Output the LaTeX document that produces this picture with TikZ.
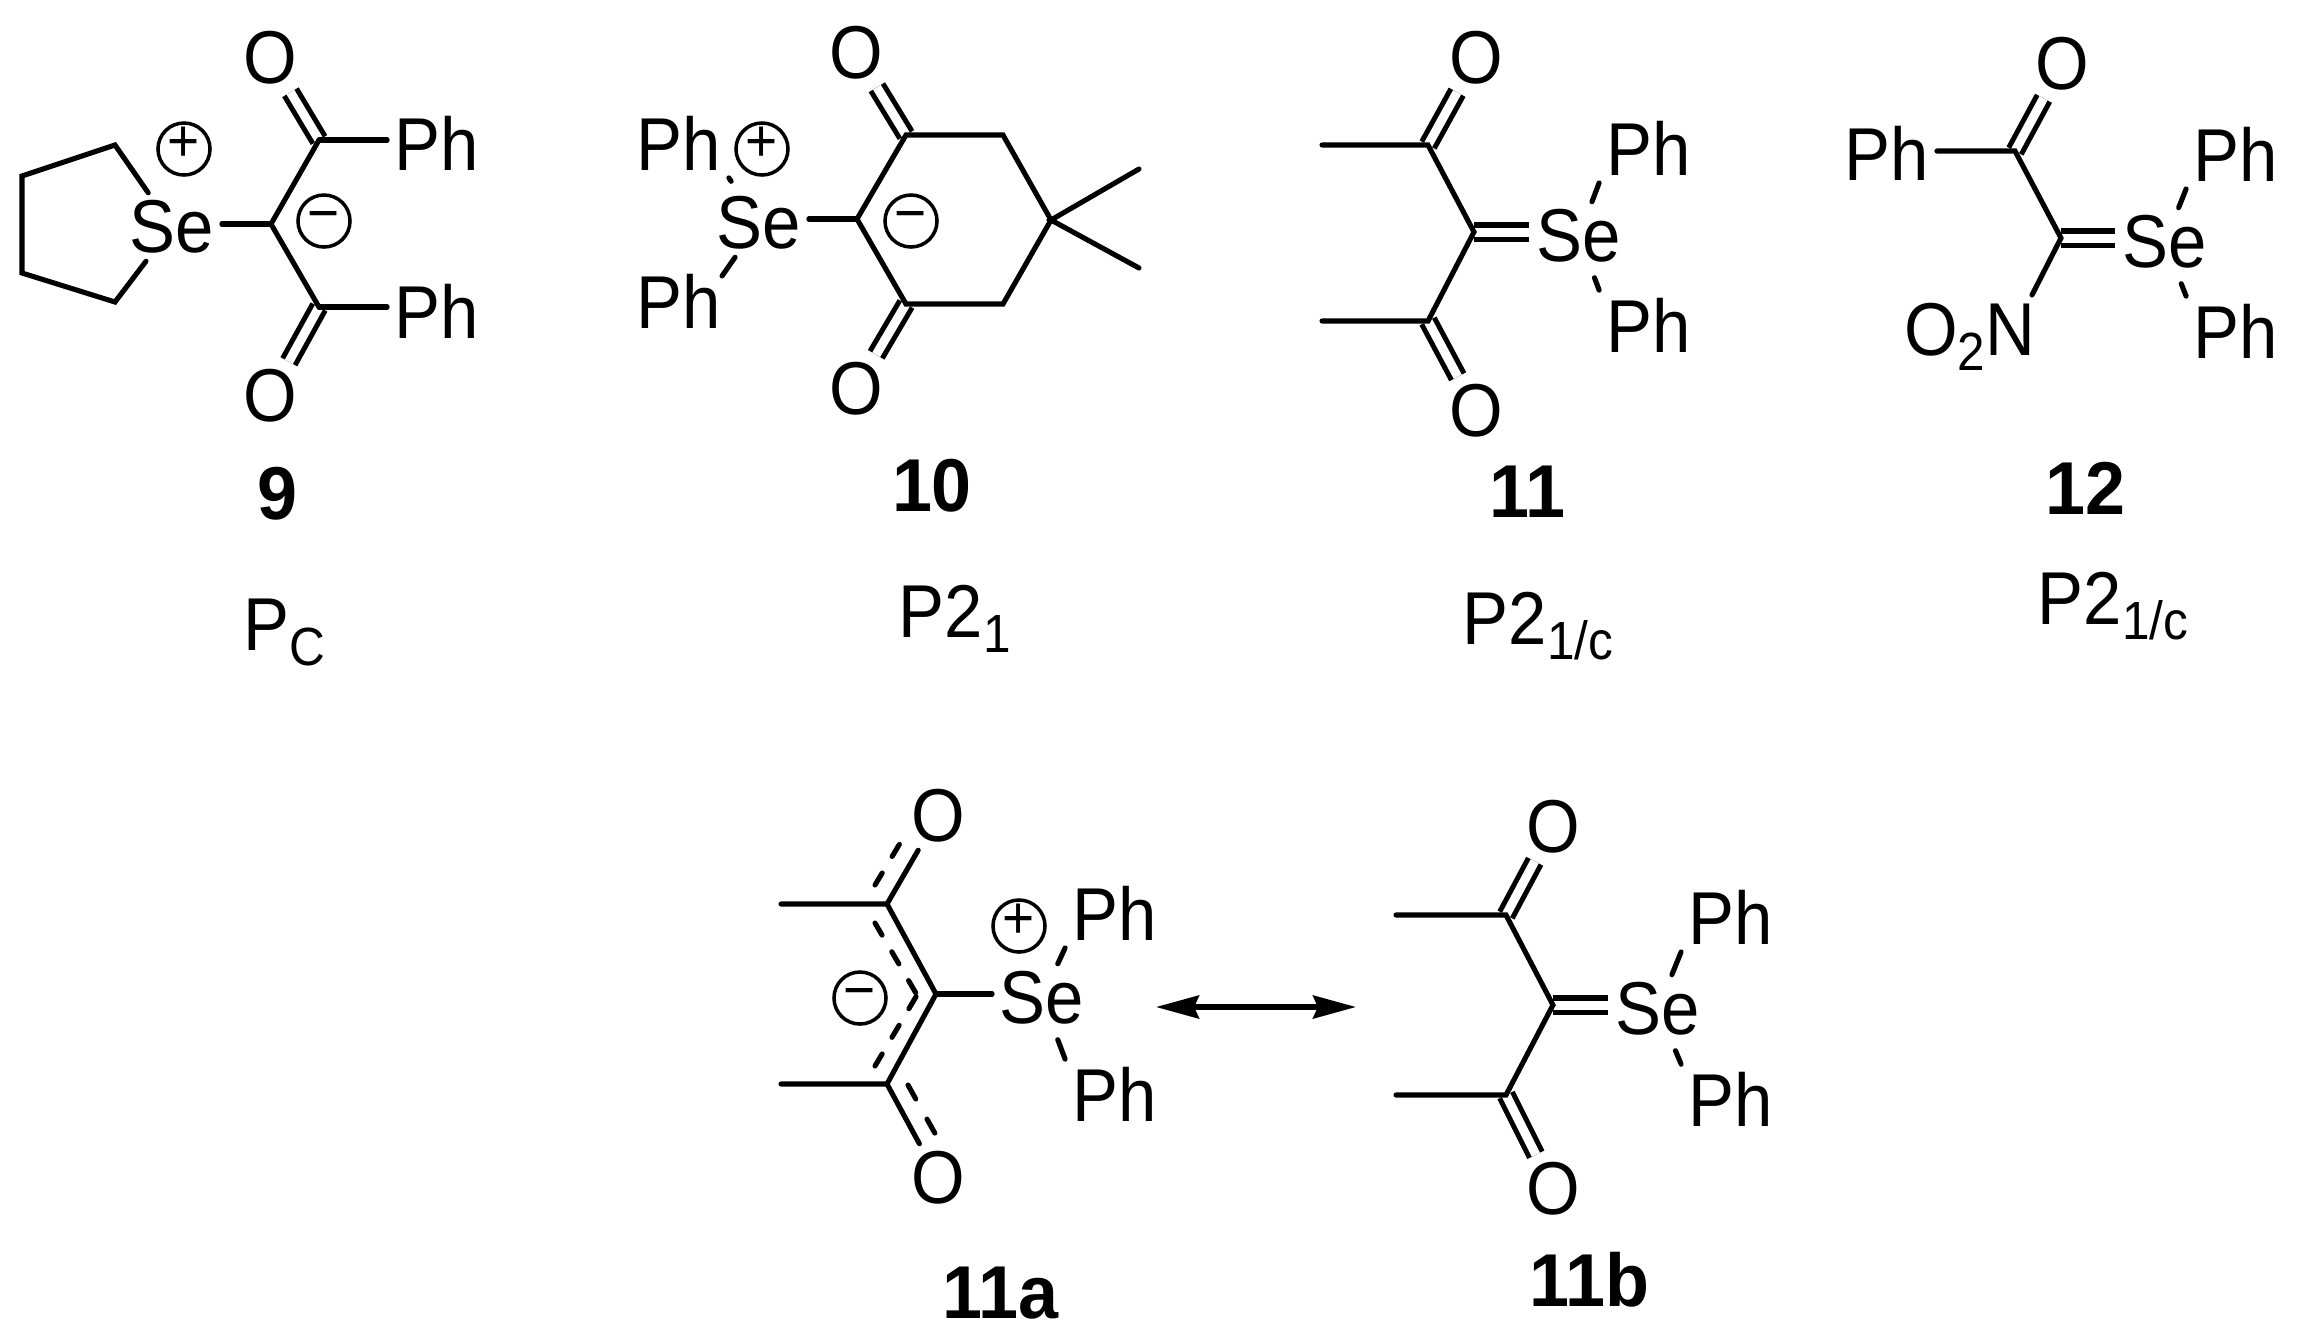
\documentclass[tikz,border=0pt]{standalone}
\usepackage{fontspec}
\setmainfont[FakeStretch=0.92,BoldFeatures={FakeStretch=0.96}]{Liberation Sans}
\usetikzlibrary{calc}
\usetikzlibrary{arrows.meta}

\newcommand{\subtxt}[1]{\raisebox{-4.5pt}{\fontsize{15.3}{16}\selectfont #1}}

\tikzset{
  bond/.style={black,line width=1.45pt,line cap=round},
  dbl/.style={black,line width=1.45pt,double,double distance=0.09cm},
  dsh/.style={black,line width=1.45pt,line cap=round,dash pattern=on 0.14cm off 0.193cm},
  atom/.style={font=\fontsize{21.3}{22}\selectfont,inner sep=2pt},
  lab/.style={font=\fontsize{21.3}{22}\selectfont\bfseries,inner sep=0pt},
  grp/.style={font=\fontsize{21.3}{22}\selectfont,inner sep=0pt,anchor=base west},
  chg/.style={circle,draw,line width=1pt,inner sep=0pt,minimum size=0.52cm,text height=0.7em,text depth=0pt,font=\fontsize{17}{18}\selectfont},
}

\begin{document}
\begin{tikzpicture}[x=0.01cm,y=-0.01cm]
\useasboundingbox (0,0) rectangle (2305,1338);

% 9
\coordinate (A1) at (115,145);
\coordinate (A2) at (22,176);
\coordinate (A3) at (22,273);
\coordinate (A4) at (115,302);
\coordinate (A5) at (319,140);
\coordinate (A6) at (271,224);
\coordinate (A7) at (319,307);
\node[atom] (SeA) at (172,227) {Se};
\node[atom] (OA1) at (270,58) {O};
\node[atom] (OA2) at (270,396) {O};
\node[atom] (PhA1) at (437,143) {Ph};
\node[atom] (PhA2) at (437,311) {Ph};
\node[chg] (plusA) at (184,149) {+};
\node[chg] (minusA) at (324,221) {−};
\draw[dbl] (A5)--(OA1);
\draw[dbl] (A7)--(OA2);
\draw[bond] (SeA)--(A1)--(A2)--(A3)--(A4)--(SeA);
\draw[bond] (A5)--(A6)--(A7);
\draw[bond] (A6)--(A6-|SeA.east);
\draw[bond] (A5)--(A5-|PhA1.west);
\draw[bond] (A7)--(A7-|PhA2.west);
\node[lab] (labA) at (277,494) {9};
\node[grp] (sgA) at (243,650) {P\subtxt{C}};

% 10
\coordinate (B1) at (906,135);
\coordinate (B2) at (1003,135);
\coordinate (B3) at (1051,220);
\coordinate (B4) at (1003,304);
\coordinate (B5) at (906,304);
\coordinate (B6) at (857,219);
\coordinate (B7) at (1139,169);
\coordinate (B8) at (1139,268);
\node[atom] (SeB) at (759,223) {Se};
\node[atom] (OB1) at (856,53) {O};
\node[atom] (OB2) at (856,389) {O};
\node[atom] (PhB1) at (679,143) {Ph};
\node[atom] (PhB2) at (679,301) {Ph};
\node[chg] (plusB) at (762,149) {+};
\node[chg] (minusB) at (911,221) {−};
\draw[dbl] (B1)--(OB1);
\draw[dbl] (B5)--(OB2);
\draw[bond] (B6)--(B1)--(B2)--(B3)--(B4)--(B5)--(B6);
\draw[bond] (B7)--(B3)--(B8);
\draw[bond] (B6)--(B6-|SeB.east);
\draw[bond,shorten <=0.09cm] (SeB)--(PhB1.south east);
\draw[bond,shorten >=-0.12cm] (SeB)--(PhB2.north east);
\node[lab] (labB) at (932,486) {10};
\node[grp] (sgB) at (898,637) {P2\subtxt{1}};

% 11
\coordinate (C1) at (1428,145);
\coordinate (C2) at (1474,232);
\coordinate (C3) at (1428,321);
\coordinate (C4) at (1322,145);
\coordinate (C5) at (1322,321);
\node[atom] (SeC) at (1579,236) {Se};
\node[atom] (OC1) at (1476,58) {O};
\node[atom] (OC2) at (1476,411) {O};
\node[atom] (PhC1) at (1649,148) {Ph};
\node[atom] (PhC2) at (1649,325) {Ph};
\draw[dbl] (C1)--(OC1);
\draw[dbl] (C3)--(OC2);
\draw[dbl] (C2)--(C2-|SeC.west);
\draw[bond] (C4)--(C1)--(C2)--(C3)--(C5);
\draw[bond] (SeC)--(PhC1.south west);
\draw[bond,shorten <=0.08cm] (SeC)--(PhC2.north west);
\node[lab] (labC) at (1527,492) {11};
\node[grp] (sgC) at (1462,644) {P2\subtxt{1/c}};

% 12
\coordinate (D1) at (2015,151);
\coordinate (D2) at (2061,238);
\node[atom] (SeD) at (2165,242) {Se};
\node[atom] (OD1) at (2062,64) {O};
\node[atom] (PhD1) at (1887,153) {Ph};
\node[atom] (PhD2) at (2236,154) {Ph};
\node[atom] (PhD3) at (2236,331) {Ph};
\node[atom,anchor=base east] (ND) at (2043,355) {O\subtxt{2}N};
\draw[dbl] (D1)--(OD1);
\draw[dbl] (D2)--(D2-|SeD.west);
\draw[bond] (D1-|PhD1.east)--(D1)--(D2);
\draw[bond] (D2)--($(ND.north east)+(-11,0)$);
\draw[bond] (SeD)--(PhD2.south west);
\draw[bond,shorten <=0.08cm] (SeD)--(PhD3.north west);
\node[lab] (labD) at (2085,488) {12};
\node[grp] (sgD) at (2037,624) {P2\subtxt{1/c}};

% 11a
\coordinate (E1) at (887,904);
\coordinate (E2) at (936,994);
\coordinate (E3) at (887,1084);
\coordinate (E4) at (781,904);
\coordinate (E5) at (781,1084);
\coordinate (E6) at (875,885);
\coordinate (E7) at (902,840);
\coordinate (E8) at (875,923);
\coordinate (E9) at (917,995);
\coordinate (E10) at (875,1066);
\coordinate (E11) at (908,1085);
\coordinate (E12) at (937,1137);
\node[atom] (SeE) at (1042,998) {Se};
\node[atom] (OE1) at (938,816) {O};
\node[atom] (OE2) at (938,1178) {O};
\node[atom] (PhE1) at (1115,913) {Ph};
\node[atom] (PhE2) at (1115,1094) {Ph};
\node[chg] (plusE) at (1019,926) {+};
\node[chg] (minusE) at (860,998) {−};
\draw[bond] (E4)--(E1)--(E2)--(E3)--(E5);
\draw[bond] (E1)--(OE1);
\draw[bond] (E3)--(OE2);
\draw[bond] (E2)--(E2-|SeE.west);
\draw[dsh] (E6)--(E7);
\draw[dsh] (E8)--(E9);
\draw[dsh] (E10)--(E9);
\draw[dsh,dash pattern=on 0.16cm off 0.23cm] (E11)--(E12);
\draw[bond] (SeE)--(PhE1.south west);
\draw[bond,shorten <=0.08cm] (SeE)--(PhE2.north west);
\node[lab] (labE) at (1000,1293) {11a};

% arrow
\coordinate (arrL) at (1156,1007);
\coordinate (arrR) at (1356,1007);
\draw[black,line width=1.45pt,{Stealth[length=0.43cm,width=0.23cm,inset=0.05cm]}-{Stealth[length=0.43cm,width=0.23cm,inset=0.05cm]}] (arrL)--(arrR);

% 11b
\coordinate (F1) at (1506,915);
\coordinate (F2) at (1553,1005);
\coordinate (F3) at (1506,1095);
\coordinate (F4) at (1396,915);
\coordinate (F5) at (1396,1095);
\node[atom] (SeF) at (1658,1009) {Se};
\node[atom] (OF1) at (1553,827) {O};
\node[atom] (OF2) at (1553,1189) {O};
\node[atom] (PhF1) at (1731,917) {Ph};
\node[atom] (PhF2) at (1731,1099) {Ph};
\draw[dbl] (F1)--(OF1);
\draw[dbl] (F3)--(OF2);
\draw[dbl] (F2)--(F2-|SeF.west);
\draw[bond] (F4)--(F1)--(F2)--(F3)--(F5);
\draw[bond] (SeF)--(PhF1.south west);
\draw[bond,shorten <=0.08cm] (SeF)--(PhF2.north west);
\node[lab] (labF) at (1589,1280) {11b};

\end{tikzpicture}
\end{document}
